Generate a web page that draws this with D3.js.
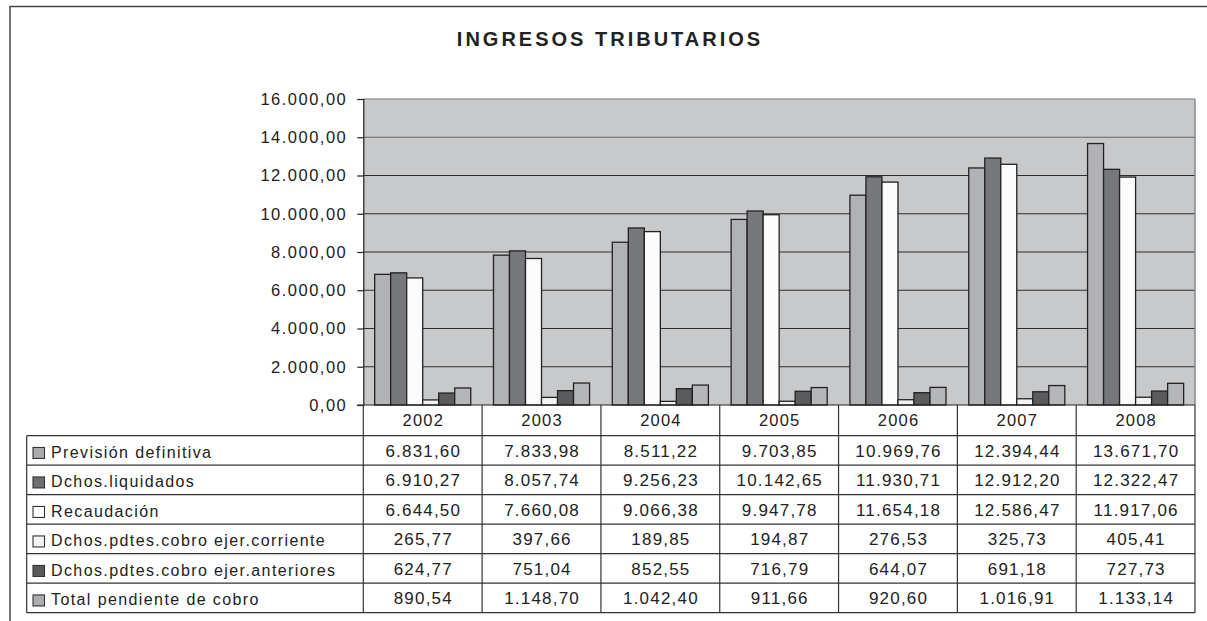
<!DOCTYPE html>
<html>
<head>
<meta charset="utf-8">
<script src="https://cdn.jsdelivr.net/npm/d3@7"></script>
<style>
  html, body { margin: 0; padding: 0; background: #fff; overflow: hidden; }
  svg { display: block; font-family: "Liberation Sans", Arial, sans-serif; }
</style>
</head>
<body>
<svg id="chart" width="1207" height="621"></svg>
<script>
// ---- Data ----
const title = "INGRESOS TRIBUTARIOS";
const years = ["2002", "2003", "2004", "2005", "2006", "2007", "2008"];
const seriesNames = [
  "Previsión definitiva",
  "Dchos.liquidados",
  "Recaudación",
  "Dchos.pdtes.cobro ejer.corriente",
  "Dchos.pdtes.cobro ejer.anteriores",
  "Total pendiente de cobro"
];
const prevision   = [6831.60, 7833.98, 8511.22, 9703.85, 10969.76, 12394.44, 13671.70];
const liquidados  = [6910.27, 8057.74, 9256.23, 10142.65, 11930.71, 12912.20, 12322.47];
const recaudacion = [6644.50, 7660.08, 9066.38, 9947.78, 11654.18, 12586.47, 11917.06];
const corriente   = [265.77, 397.66, 189.85, 194.87, 276.53, 325.73, 405.41];
const anteriores  = [624.77, 751.04, 852.55, 716.79, 644.07, 691.18, 727.73];
const totalPend   = [890.54, 1148.70, 1042.40, 911.66, 920.60, 1016.91, 1133.14];
const yTicks = [0, 2000, 4000, 6000, 8000, 10000, 12000, 14000, 16000];

const seriesValues = [prevision, liquidados, recaudacion, corriente, anteriores, totalPend];
const barColors = ["#b1b2b5", "#77787b", "#fcfcfc", "#f3f3f3", "#5a5b5d", "#b5b6b9"];
const keyColors = ["#a9aaad", "#6d6e71", "#ffffff", "#f2f2f2", "#58595b", "#acadb0"];

// ---- Layout ----
const plotL = 363.3, plotR = 1195, plotT = 99, plotB = 405;
const tableL = 26.7, yearRowB = 435.7, tableB = 612.7;

const locale = d3.formatLocale({decimal: ",", thousands: ".", grouping: [3], currency: ["", "€"]});
const fmt = locale.format(",.2f");

const svg = d3.select("#chart");

// Outer frame: only top and left edges are visible in the picture
svg.append("line")
  .attr("x1", 9.5).attr("x2", 1207).attr("y1", 6.5).attr("y2", 6.5)
  .attr("stroke", "#444").attr("stroke-width", 1.5);
svg.append("line")
  .attr("x1", 10).attr("x2", 10).attr("y1", 6).attr("y2", 621)
  .attr("stroke", "#444").attr("stroke-width", 1.5);

// Title
svg.append("text")
  .attr("x", 610).attr("y", 45.5)
  .attr("text-anchor", "middle")
  .attr("font-size", 20).attr("font-weight", "bold")
  .attr("letter-spacing", 3)
  .attr("fill", "#222")
  .text(title);

// Scales
const y = d3.scaleLinear().domain([0, 16000]).range([plotB, plotT]);
const x0 = d3.scaleBand().domain(years).range([plotL, plotR]).padding(0);
const x1 = d3.scaleBand().domain(seriesNames).range([0, x0.bandwidth()])
  .paddingInner(0).paddingOuter(0.71);

// Plot background
svg.append("rect")
  .attr("x", plotL).attr("y", plotT)
  .attr("width", plotR - plotL).attr("height", plotB - plotT)
  .attr("fill", "#c8c9cb");

// Gridlines
svg.append("g").selectAll("line")
  .data(yTicks.filter(d => d > 0))
  .join("line")
  .attr("x1", plotL).attr("x2", plotR)
  .attr("y1", d => y(d)).attr("y2", d => y(d))
  .attr("stroke", d => d === 16000 ? "#9a9a9a" : (d === 14000 ? "#666" : "#2e2e2e"))
  .attr("stroke-width", d => d === 16000 ? 1.5 : 1);

// Right border of plot
svg.append("line")
  .attr("x1", plotR).attr("x2", plotR).attr("y1", plotT).attr("y2", plotB)
  .attr("stroke", "#8a8a8a").attr("stroke-width", 1.5);

// Bars
const groups = svg.append("g").selectAll("g")
  .data(years)
  .join("g")
  .attr("transform", d => `translate(${x0(d)},0)`);

groups.selectAll("rect")
  .data((yr, i) => seriesNames.map((s, j) => ({s, j, v: seriesValues[j][i]})))
  .join("rect")
  .attr("x", d => x1(d.s))
  .attr("y", d => y(d.v))
  .attr("width", x1.bandwidth())
  .attr("height", d => plotB - y(d.v))
  .attr("fill", d => barColors[d.j])
  .attr("stroke", "#222")
  .attr("stroke-width", 1.3);

// Y axis
const yAxis = d3.axisLeft(y).tickValues(yTicks).tickSize(6).tickPadding(10)
  .tickFormat(d => fmt(d));
const yg = svg.append("g").attr("transform", `translate(${plotL},0)`).call(yAxis);
yg.select(".domain").attr("stroke", "#222").attr("stroke-width", 1.2);
yg.selectAll(".tick line").attr("stroke", "#222").attr("stroke-width", 1.2);
yg.selectAll(".tick text")
  .attr("font-family", "'Liberation Sans', Arial, sans-serif")
  .attr("font-size", 16.5).attr("letter-spacing", 1.5)
  .attr("fill", "#222");

// X baseline
svg.append("line")
  .attr("x1", plotL - 6).attr("x2", plotR).attr("y1", plotB).attr("y2", plotB)
  .attr("stroke", "#222").attr("stroke-width", 1.2);

// ---- Data table ----
const rowY = d3.scaleBand().domain(seriesNames).range([yearRowB, tableB]).padding(0);
const tg = svg.append("g");

// Horizontal lines
const hLines = [yearRowB].concat(seriesNames.map(s => rowY(s) + rowY.bandwidth()));
tg.selectAll("line.h")
  .data(hLines)
  .join("line")
  .attr("class", "h")
  .attr("x1", tableL).attr("x2", plotR)
  .attr("y1", d => d).attr("y2", d => d)
  .attr("stroke", "#333").attr("stroke-width", 1.2);

// Vertical lines (column boundaries)
const vLines = years.map(yr => x0(yr)).concat([plotR]);
tg.selectAll("line.v")
  .data(vLines)
  .join("line")
  .attr("class", "v")
  .attr("x1", d => d).attr("x2", d => d)
  .attr("y1", plotB).attr("y2", tableB)
  .attr("stroke", "#333").attr("stroke-width", 1.2);

// Left border of table
tg.append("line")
  .attr("x1", tableL).attr("x2", tableL).attr("y1", yearRowB).attr("y2", tableB)
  .attr("stroke", "#333").attr("stroke-width", 1.2);

// Year labels
tg.selectAll("text.year")
  .data(years)
  .join("text")
  .attr("class", "year")
  .attr("x", d => x0(d) + x0.bandwidth() / 2 + 0.6)
  .attr("y", 425.5)
  .attr("text-anchor", "middle")
  .attr("font-size", 16.5).attr("letter-spacing", 1.2)
  .attr("fill", "#222")
  .text(d => d);

// Legend keys + series names
const rows = tg.selectAll("g.row")
  .data(seriesNames)
  .join("g")
  .attr("class", "row")
  .attr("transform", d => `translate(0,${rowY(d)})`);

rows.append("rect")
  .attr("x", 33).attr("y", rowY.bandwidth() / 2 - 3)
  .attr("width", 11.5).attr("height", 11)
  .attr("fill", (d, i) => keyColors[i])
  .attr("stroke", "#333").attr("stroke-width", 1.1);

rows.append("text")
  .attr("x", 51).attr("y", rowY.bandwidth() / 2 + 7.5)
  .attr("font-size", 16).attr("letter-spacing", 1.4)
  .attr("fill", "#222")
  .text(d => d);

// Values
rows.each(function(s, j) {
  d3.select(this).selectAll("text.val")
    .data(seriesValues[j])
    .join("text")
    .attr("class", "val")
    .attr("x", (v, i) => x0(years[i]) + x0.bandwidth() / 2 + 0.6)
    .attr("y", rowY.bandwidth() / 2 + 6.5)
    .attr("text-anchor", "middle")
    .attr("font-size", 17).attr("letter-spacing", 1.2)
    .attr("fill", "#222")
    .text(v => fmt(v));
});
</script>
</body>
</html>
